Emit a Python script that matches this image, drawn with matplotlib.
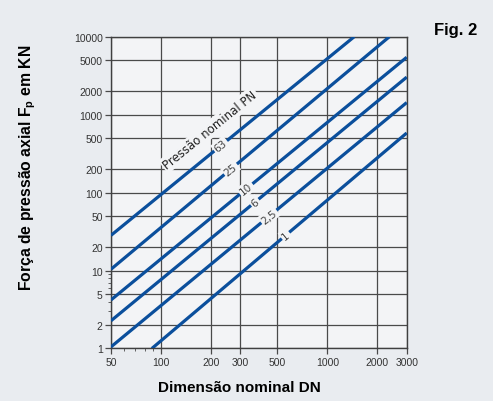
import numpy as np
import matplotlib
matplotlib.use("Agg")
import matplotlib.pyplot as plt
from matplotlib.ticker import FixedLocator, NullFormatter

# Pressão nominal PN and the end points of each line
pn_labels = ["63", "25", "10", "6", "2,5", "1"]
dn_start = [50, 50, 50, 50, 50, 88]
fp_start = [28.3, 10.4, 4.2, 2.27, 1.05, 1.0]
dn_end = [1450, 2360, 3000, 3000, 3000, 3000]
fp_end = [10000, 10000, 5450, 3030, 1430, 582]
label_dn = [228, 262, 325, 366, 445, 560]

x_ticks = [50, 100, 200, 300, 500, 1000, 2000, 3000]
y_ticks = [1, 2, 5, 10, 20, 50, 100, 200, 500, 1000, 2000, 5000, 10000]

narrow = ["Liberation Sans Narrow", "Liberation Sans", "DejaVu Sans"]
blue = "#0b4f9c"
grid_c = "#4a4a4a"

fig = plt.figure(figsize=(4.93, 4.02), dpi=100, facecolor="#e9ecf0")
ax = fig.add_axes([0.2252, 0.1306, 0.5998, 0.7756])
ax.set_facecolor("#f3f4f6")
ax.set_xscale("log")
ax.set_yscale("log")
ax.set_xlim(50, 3000)
ax.set_ylim(1, 10000)

ax.xaxis.set_major_locator(FixedLocator(x_ticks))
ax.yaxis.set_major_locator(FixedLocator(y_ticks))
ax.set_xticklabels([str(v) for v in x_ticks], family=narrow, fontsize=7.5, color="#333333")
ax.set_yticklabels([str(v) for v in y_ticks], family=narrow, fontsize=7.5, color="#333333")
ax.yaxis.set_minor_locator(FixedLocator([3, 4, 6, 7, 8, 9]))
ax.xaxis.set_minor_locator(FixedLocator([60, 70, 80, 90]))
ax.xaxis.set_minor_formatter(NullFormatter())
ax.yaxis.set_minor_formatter(NullFormatter())
ax.tick_params(which="major", length=4, width=0.9, color=grid_c, pad=2)
ax.tick_params(which="minor", length=2, width=0.6, color=grid_c)
ax.grid(True, which="major", color=grid_c, lw=0.9)
for s in ax.spines.values():
    s.set_color("#404040")
    s.set_linewidth(1.0)

for i in range(len(pn_labels)):
    ax.plot([dn_start[i], dn_end[i]], [fp_start[i], fp_end[i]],
            color=blue, lw=2.3, solid_capstyle="butt", zorder=3)
    # label sits on the line (interpolated in log space)
    lx = np.log10([dn_start[i], dn_end[i]])
    ly = np.log10([fp_start[i], fp_end[i]])
    yy = 10 ** np.interp(np.log10(label_dn[i]), lx, ly)
    ax.text(label_dn[i], yy, pn_labels[i], rotation=39, ha="center", va="center",
            fontsize=7.5, color="#444444", zorder=4,
            bbox=dict(boxstyle="square,pad=0.15", fc="#f3f4f6", ec="none"))

ax.text(196, 640, "Pressão nominal PN", rotation=39, ha="center", va="center",
        fontsize=8.5, color="#222222", zorder=4,
        bbox=dict(boxstyle="square,pad=0.15", fc="#f3f4f6", ec="none"))

fig.text(0.057, 0.582, "Força de pressão axial F$_\\mathregular{p}$ em KN", rotation=90,
         ha="center", va="center", fontsize=11.3, fontweight="bold", family=narrow)
fig.text(0.485, 0.035, "Dimensão nominal DN", ha="center", va="center",
         fontsize=11, fontweight="bold", family=narrow)
fig.text(0.924, 0.924, "Fig. 2", ha="center", va="center",
         fontsize=12, fontweight="bold", family=narrow)

fig.savefig("out.png", dpi=100, facecolor=fig.get_facecolor())
